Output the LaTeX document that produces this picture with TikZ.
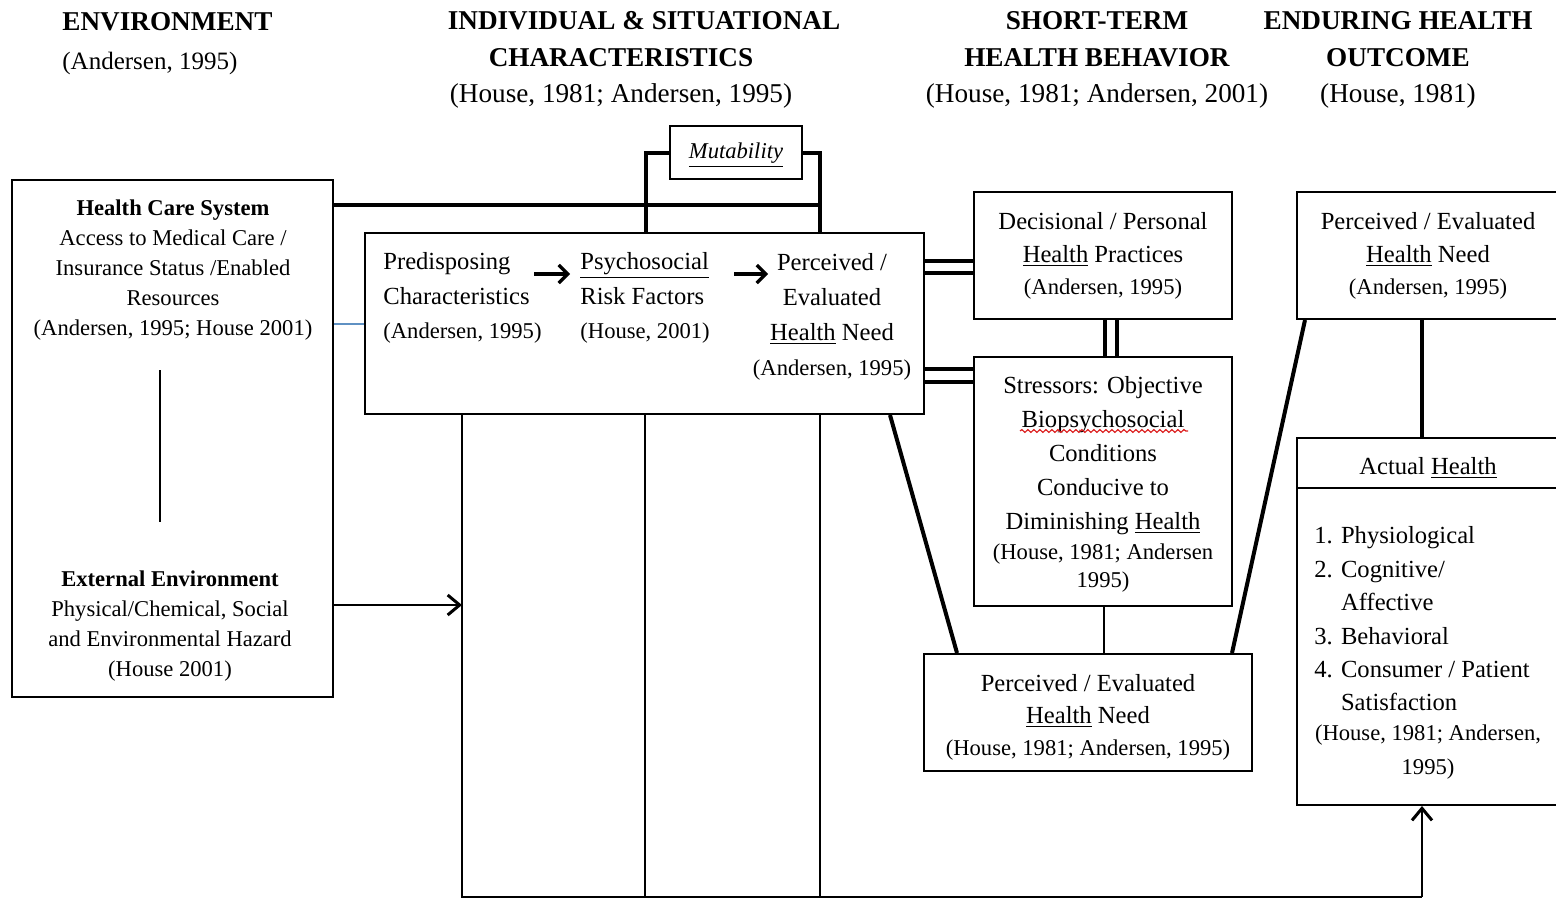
\documentclass[tikz,border=0pt]{standalone}
\usepackage{fontspec}
\setmainfont{Liberation Serif}
\usetikzlibrary{arrows.meta,fit,decorations.pathmorphing}
\newcommand\fsHead{\fontsize{13.6}{18.3}\selectfont}
\newcommand\fsBody{\fontsize{12.3}{17.4}\selectfont}
\newcommand\fsCite{\fontsize{11.3}{15}\selectfont}
\newcommand\fsEnv{\fontsize{11.3}{15}\selectfont}
\definecolor{linkblue}{RGB}{95,145,195}
\definecolor{spellred}{RGB}{220,30,30}
\begin{document}
\begin{tikzpicture}[x=0.5pt,y=-0.5pt,
  box/.style={draw, line width=1pt, inner sep=0pt},
  txt/.style={inner sep=0pt, align=center, font=\fsBody},
  heavy/.style={line width=2pt},
  pair/.style={line width=1.9pt},
  thinline/.style={line width=1pt},
  barb/.style={-{Straight Barb[length=6pt,width=10pt,line width=1.5pt]}},
  inarrow/.style={line width=1.6pt, -{Straight Barb[length=4.5pt,width=9pt]}}]
\useasboundingbox (0,0) rectangle (1556,899);
\clip (0,0) rectangle (1556,899);

% ---------- column headings ----------
\node[txt, font=\fsHead, align=left, anchor=north west] (envH) at (62,12)
  {\textbf{ENVIRONMENT}\\[1pt]{\fontsize{12.5}{15}\selectfont (Andersen, 1995)}};
\node[txt, font=\fsHead] (indH) at (621,60)
  {\hspace*{23pt}\textbf{INDIVIDUAL \& SITUATIONAL}\\\textbf{CHARACTERISTICS}\\(House, 1981; Andersen, 1995)};
\node[txt, font=\fsHead] (stH) at (1097,60)
  {\textbf{SHORT-TERM}\\\textbf{HEALTH BEHAVIOR}\\(House, 1981; Andersen, 2001)};
\node[txt, font=\fsHead] (enH) at (1398,60)
  {\textbf{ENDURING HEALTH}\\\textbf{OUTCOME}\\(House, 1981)};

% ---------- boxes ----------
\node[box, fit={(12,180) (333,697)}] (hcs) {};
\node[box, fit={(670,126) (802,179)}] (mut) {};
\node[box, fit={(365,233) (924,414)}] (main) {};
\node[box, fit={(974,192) (1232,319)}] (dec) {};
\node[box, fit={(974,357) (1232,606)}] (str) {};
\node[box, fit={(924,654) (1252,771)}] (pe2) {};
\node[box, fit={(1297,192) (1570,319)}] (pe3) {};
\node[box, fit={(1297,438) (1570,805)}] (act) {};

% ---------- box texts ----------
\node[txt, font=\fsEnv] (hcsT) at (173,270)
  {\textbf{Health Care System}\\Access to Medical Care /\\Insurance Status /Enabled\\Resources\\(Andersen, 1995; House 2001)};
\node[txt, font=\fsEnv] (extT) at (170,626)
  {\textbf{External Environment}\\Physical/Chemical, Social\\and Environmental Hazard\\(House 2001)};
\node[txt, font=\fsCite\itshape, yshift=-1.5pt] (mutT) at (mut.center) {\underline{Mutability}};

\node[txt, align=left, anchor=west] (predT) at (383,298)
  {Predisposing\\Characteristics\\{\fsCite (Andersen, 1995)}};
\node[txt, align=left, anchor=west] (psyT) at (580,298)
  {\underline{Psychosocial}\\Risk Factors\\{\fsCite (House, 2001)}};
\node[txt] (perT) at (832,317)
  {Perceived /\\Evaluated\\\underline{Health} Need\\{\fsCite (Andersen, 1995)}};

\node[txt, font={\fontsize{12.3}{16.3}\selectfont}] (decT) at (1103,256)
  {Decisional / Personal\\\underline{Health} Practices\\{\fsCite (Andersen, 1995)}};
\node[txt, font={\fontsize{12.3}{17}\selectfont}] (strT) at (1103,484)
  {Stressors: Objective\\Biopsychosocial\\Conditions\\Conducive to\\Diminishing \underline{Health}\\[-2pt]{\fsCite (House, 1981; Andersen}\\[-3pt]{\fsCite 1995)}};
\node[txt, font={\fontsize{12.3}{16}\selectfont}] (pe2T) at (1088,717)
  {Perceived / Evaluated\\\underline{Health} Need\\{\fsCite (House, 1981; Andersen, 1995)}};
\node[txt, font={\fontsize{12.3}{16.3}\selectfont}] (pe3T) at (1428,256)
  {Perceived / Evaluated\\\underline{Health} Need\\{\fsCite (Andersen, 1995)}};
\node[txt] (actH) at (1428,468) {Actual \underline{Health}};
\node[txt, align=left, anchor=west, font={\fontsize{12.3}{16.7}\selectfont}] (actL) at (1314,619)
  {1. Physiological\\2. Cognitive/\\\phantom{2. }Affective\\3. Behavioral\\4. Consumer / Patient\\\phantom{4. }Satisfaction};
\node[txt, font={\fontsize{11.3}{17}\selectfont}] (actC) at (1428,752)
  {(House, 1981; Andersen,\\1995)};

% spell-check squiggle under "Biopsychosocial"
\draw[spellred, line width=0.6pt, decorate,
      decoration={snake, amplitude=0.7pt, segment length=3pt}] (1020,431) -- (1188,431);

% divider under the "Actual Health" title
\coordinate (dv) at (1400,488);
\draw[line width=1pt] (act.west |- dv) -- (act.east |- dv);

% ---------- environment column ----------
\coordinate (s1) at (160,370);
\coordinate (s2) at (160,522);
\draw[thinline] (s1) -- (s2);
\draw[thinline, linkblue] (hcs.east |- main.west) -- (main.west);
\coordinate (ea) at (462,605);
\draw[thinline, barb] (hcs.east |- ea) -- (ea);

% ---------- mutability bracket and top bar ----------
\coordinate (tl) at (820,205);
\coordinate (mL) at (646,233);
\coordinate (mR) at (820,233);
\draw[heavy] (hcs.east |- tl) -- (tl);
\draw[heavy] (mut.west) -| (mL);
\draw[heavy] (mut.east) -| (mR);

% ---------- arrows inside the individual box ----------
\coordinate (ia1) at (534,274);
\coordinate (ia2) at (570,274);
\coordinate (ia3) at (734,274);
\coordinate (ia4) at (768,274);
\draw[inarrow] (ia1) -- (ia2);
\draw[inarrow] (ia3) -- (ia4);

% ---------- feedback lines along the bottom ----------
\coordinate (b1) at (462,897);
\coordinate (b2) at (645,897);
\coordinate (b3) at (820,897);
\coordinate (b4) at (1422,897);
\draw[thinline] (main.south -| b1) -- (b1) -- (b4);
\draw[thinline] (main.south -| b2) -- (b2);
\draw[thinline] (main.south -| b3) -- (b3);
\draw[thinline, barb] (b4) -- (act.south -| b4);

% ---------- double links to the short-term column ----------
\coordinate (d1) at (950,261);
\coordinate (d2) at (950,273);
\coordinate (d3) at (950,369);
\coordinate (d4) at (950,382);
\draw[pair] (main.east |- d1) -- (dec.west |- d1);
\draw[pair] (main.east |- d2) -- (dec.west |- d2);
\draw[pair] (main.east |- d3) -- (str.west |- d3);
\draw[pair] (main.east |- d4) -- (str.west |- d4);
\coordinate (v1) at (1105,338);
\coordinate (v2) at (1117,338);
\draw[pair] (dec.south -| v1) -- (str.north -| v1);
\draw[pair] (dec.south -| v2) -- (str.north -| v2);
\coordinate (v3) at (1104,630);
\draw[thinline] (str.south -| v3) -- (pe2.north -| v3);

% ---------- diagonal and vertical heavy links ----------
\coordinate (g1) at (890,414);
\coordinate (g2) at (957,654);
\coordinate (g3) at (1232,654);
\coordinate (g4) at (1305,319);
\coordinate (g5) at (1422,380);
\draw[heavy] (main.south -| g1) -- (pe2.north -| g2);
\draw[heavy] (pe2.north -| g3) -- (pe3.south -| g4);
\draw[heavy] (pe3.south -| g5) -- (act.north -| g5);
\end{tikzpicture}
\end{document}
